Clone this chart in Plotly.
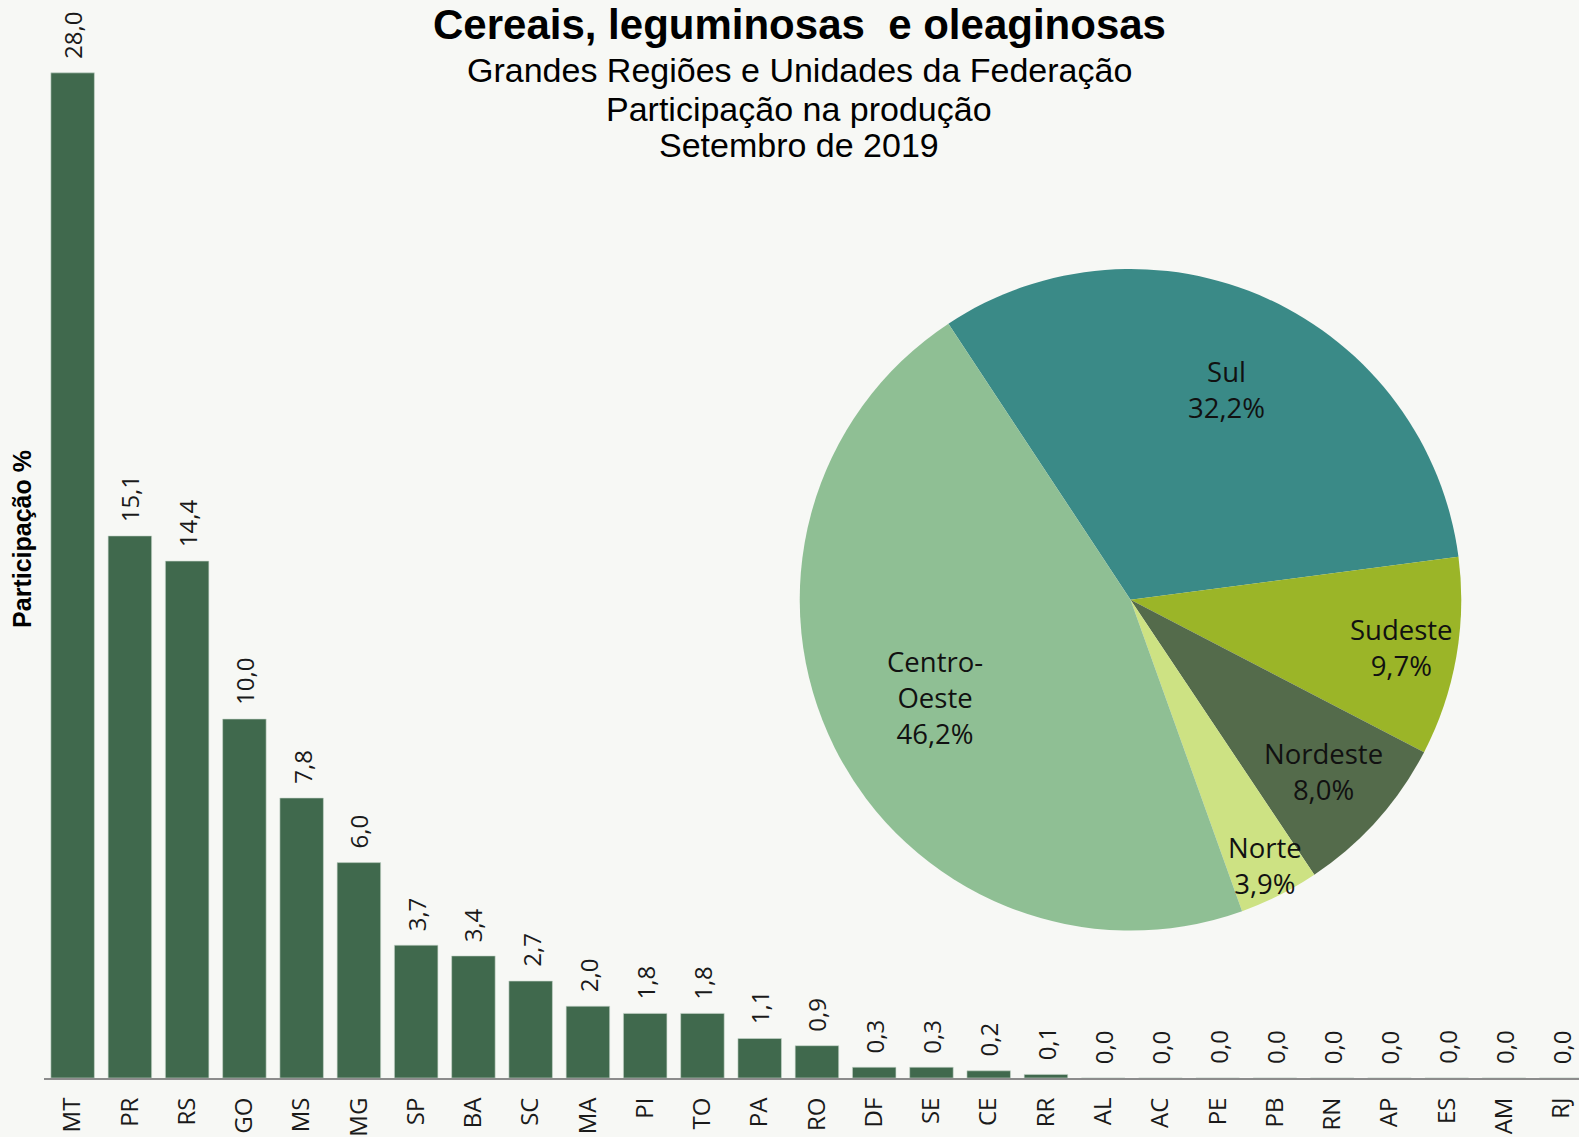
import math
import plotly.graph_objects as go

# Unidades da Federação - participação (%)
ufs = ["MT", "PR", "RS", "GO", "MS", "MG", "SP", "BA", "SC", "MA", "PI", "TO", "PA", "RO",
       "DF", "SE", "CE", "RR", "AL", "AC", "PE", "PB", "RN", "AP", "ES", "AM", "RJ"]
uf_share = [28.0, 15.1, 14.4, 10.0, 7.8, 6.0, 3.7, 3.4, 2.7, 2.0, 1.8, 1.8, 1.1, 0.9,
            0.3, 0.3, 0.2, 0.1, 0.0, 0.0, 0.0, 0.0, 0.0, 0.0, 0.0, 0.0, 0.0]

# Grandes Regiões
regions = ["Sul", "Sudeste", "Nordeste", "Norte", "Centro-Oeste"]
region_labels = ["Sul", "Sudeste", "Nordeste", "Norte", "Centro-<br>Oeste"]
region_share = [32.2, 9.7, 8.0, 3.9, 46.2]
region_colors = ["#3a8a87", "#9bb528", "#546b4b", "#cde283", "#8fbf94"]
# distância do rótulo ao centro (fração do raio), como o "melhor ajuste" do Excel
label_radius = [0.70, 0.83, 0.78, 0.90, 0.66]

bg = "#f7f8f5"
W, H = 1579, 1137
ml, mb = 44, 55
plot_w, plot_h = W - ml, H - mb

# geometria da pizza (px)
pie_left, pie_right, pie_top, pie_bottom = 799, 1462, 270, 934
pie_rot = -33.4

def fmt(v):
    return f"{v:.1f}".replace(".", ",")

fig = go.Figure()

fig.add_trace(go.Bar(
    x=ufs, y=uf_share,
    marker=dict(color="#40694d", line=dict(color="#c9d6cc", width=0.6)),
    width=0.76,
    hoverinfo="x+y",
))

# rótulos das barras
for uf, v in zip(ufs, uf_share):
    fig.add_annotation(
        x=uf, y=v, xref="x", yref="y", text=fmt(v),
        textangle=-90, xanchor="center", yanchor="bottom", yshift=12,
        showarrow=False,
        font=dict(family="Open Sans", size=24, color="#1a1a1a"),
    )

fig.add_trace(go.Pie(
    labels=regions,
    values=region_share,
    textinfo="none",
    marker=dict(colors=region_colors, line=dict(width=0)),
    sort=False,
    direction="clockwise",
    rotation=pie_rot,
    showlegend=False,
    domain=dict(x=[(pie_left - ml) / plot_w, (pie_right - ml) / plot_w],
                y=[1 - pie_bottom / plot_h, 1 - pie_top / plot_h]),
))

# rótulos da pizza, no ângulo médio de cada fatia
cx = (pie_left + pie_right) / 2
cy = (pie_top + pie_bottom) / 2
rad = min(pie_right - pie_left, pie_bottom - pie_top) / 2
total = sum(region_share)
cum = 0.0
for lab, v, f in zip(region_labels, region_share, label_radius):
    mid = math.radians(pie_rot + (cum + v / 2) / total * 360)
    cum += v
    px = cx + rad * f * math.sin(mid)
    py = cy - rad * f * math.cos(mid)
    fig.add_annotation(
        x=(px - ml) / plot_w, y=1 - py / plot_h, xref="paper", yref="paper",
        text=f"{lab}<br>{fmt(v)}%", showarrow=False,
        xanchor="center", yanchor="middle",
        font=dict(family="Open Sans", size=27.5, color="#111111"),
    )

titles = [
    ("<b>Cereais, leguminosas  e oleaginosas</b>", 25, 42),
    ("Grandes Regiões e Unidades da Federação", 70, 34),
    ("Participação na produção", 109, 34),
    ("Setembro de 2019", 146, 34),
]
for txt, py, size in titles:
    fig.add_annotation(
        text=txt, xref="paper", yref="paper",
        x=(799 - ml) / plot_w, y=1 - py / plot_h,
        xanchor="center", yanchor="middle", showarrow=False,
        font=dict(family="Liberation Sans", size=size, color="#000000"),
    )

fig.update_layout(
    width=W, height=H,
    margin=dict(l=ml, r=0, t=0, b=mb),
    paper_bgcolor=bg, plot_bgcolor=bg,
    showlegend=False,
    bargap=0.24,
    xaxis=dict(
        range=[-0.5, 26.31],
        tickangle=-90,
        tickfont=dict(family="Open Sans", size=24, color="#1a1a1a"),
        ticklabelstandoff=8,
        showline=True, linecolor="#8c8c8c", linewidth=2,
        ticks="", showgrid=False, zeroline=False,
    ),
    yaxis=dict(
        range=[0, 30.03],
        showticklabels=False, showgrid=False, zeroline=False, ticks="",
        title=dict(text="<b>Participação %</b>",
                   font=dict(family="Liberation Sans", size=25, color="#000000"),
                   standoff=4),
    ),
)

fig.write_html(
    "out.html",
    config={"displayModeBar": False},
    post_script="document.body.style.margin='0';document.body.style.background='%s';" % bg,
)
